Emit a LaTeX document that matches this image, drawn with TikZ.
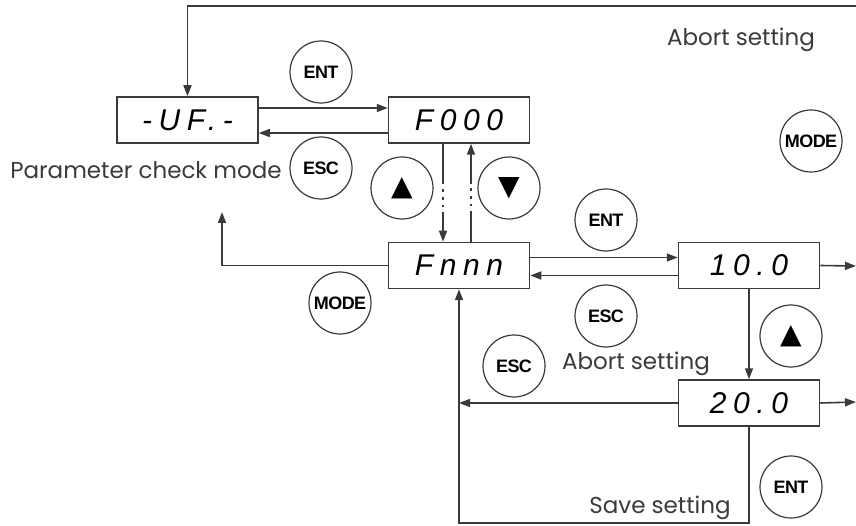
\documentclass[tikz,border=0pt]{standalone}
\usepackage{fontspec}
\setmainfont{Poppins}
\newfontfamily\segfont[LetterSpace=22]{Liberation Sans}
\newfontfamily\keyfont[LetterSpace=-3]{Liberation Sans}
\newfontfamily\symfont{DejaVu Sans}
\usetikzlibrary{arrows.meta}
\definecolor{ink}{HTML}{3A3A3A}
\begin{document}
\begin{tikzpicture}[x=1pt,y=-1pt,
  display/.style={draw=ink,line width=1.5pt,minimum width=141pt,minimum height=46pt,inner sep=0pt,
    font=\segfont\itshape\fontsize{30}{30}\selectfont},
  key/.style={draw=ink,circle,line width=1.2pt,minimum size=62pt,inner sep=0pt,
    font=\keyfont\bfseries\fontsize{18}{18}\selectfont},
  arrowkey/.style={key,font=\symfont\fontsize{28}{28}\selectfont},
  edge/.style={->,>={Triangle[length=11pt,width=8pt]},draw=ink,line width=1.6pt},
  dots/.style={draw=ink,line width=2.6pt,dash pattern=on 2.6pt off 5pt},
  note/.style={text=ink,font=\fontsize{23}{23}\selectfont,inner sep=0pt}]
\useasboundingbox (0,0) rectangle (856,526);
% displays
\node[display] (uf) at (187.5,120) {-UF.-};
\node[display] (f000) at (459,120) {F000};
\node[display] (fnnn) at (459,265.5) {Fnnn};
\node[display] (v10) at (749,265.5) {10.0};
\node[display] (v20) at (749,403) {20.0};
% keys
\node[key] (entA) at (321,72) {ENT};
\node[key] (escA) at (321,168) {ESC};
\node[arrowkey] (upA) at (402,188) {▲};
\node[arrowkey] (downA) at (509,188) {▼};
\node[key] (modeA) at (811,141) {MODE};
\node[key] (entB) at (606,220) {ENT};
\node[key] (escB) at (606,316) {ESC};
\node[key] (modeB) at (340,303) {MODE};
\node[key] (escC) at (514,366) {ESC};
\node[arrowkey] (upB) at (791,336) {▲};
\node[key] (entC) at (791,487) {ENT};
% texts
\node[note] (abortA) at (741,40) {Abort setting};
\node[note] (check) at (146,170) {Parameter check mode};
\node[note] (abortB) at (636,364) {Abort setting};
\node[note] (save) at (660,508) {Save setting};
% free ends
\coordinate (rtop) at (856,6);
\coordinate (r10) at (856,266);
\coordinate (r20) at (856,402);
\coordinate (back) at (222,212);
\coordinate (bot) at (459,523);
% connectors
\draw[edge] (rtop) -| (uf.north);
\draw[edge] ([yshift=12pt]uf.east) -- ([yshift=12pt]f000.west);
\draw[edge] ([yshift=-13pt]f000.west) -- ([yshift=-13pt]uf.east);
\draw[ink,line width=1.6pt] ([xshift=-16pt]f000.south) -- ++(0,38) coordinate (d1);
\draw[dots] (d1) -- ++(0,30) coordinate (d2);
\draw[edge] (d2) -- ([xshift=-16pt]fnnn.north);
\draw[ink,line width=1.6pt] ([xshift=12pt]fnnn.north) -- ++(0,-28) coordinate (u1);
\draw[dots] (u1) -- ++(0,-30) coordinate (u2);
\draw[edge] (u2) -- ([xshift=12pt]f000.south);
\draw[edge] ([yshift=8pt]fnnn.east) -- ([yshift=8pt]v10.west);
\draw[edge] ([yshift=-10pt]v10.west) -- ([yshift=-10pt]fnnn.east);
\draw[edge] (fnnn.west) -| (back);
\draw[edge] (v10.east) -- (r10);
\draw[edge] (v10.south) -- (v20.north);
\draw[edge] (v20.east) -- (r20);
\draw[edge] (v20.west) -- (fnnn.center |- v20.west);
\draw[edge] (v20.south) |- (bot) -- (fnnn.south);
\end{tikzpicture}
\end{document}
